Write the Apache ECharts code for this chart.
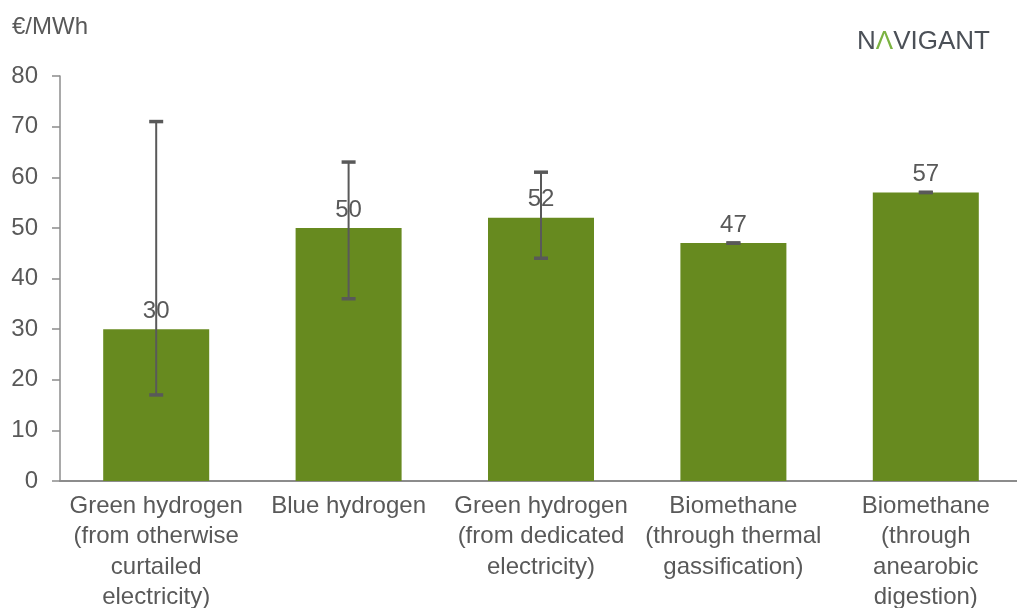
<!DOCTYPE html>
<html>
<head>
<meta charset="utf-8">
<script src="https://cdn.jsdelivr.net/npm/echarts@6/dist/echarts.min.js"></script>
<style>
  html, body { margin: 0; padding: 0; background: #fff; }
  #chart { width: 1017px; height: 608px; }
</style>
</head>
<body>
<div id="chart"></div>
<script>
// chart data
const categories = [
  'Green hydrogen\n(from otherwise\ncurtailed\nelectricity)',
  'Blue hydrogen',
  'Green hydrogen\n(from dedicated\nelectricity)',
  'Biomethane\n(through thermal\ngassification)',
  'Biomethane\n(through\nanearobic\ndigestion)'
];
const costs = [30, 50, 52, 47, 57];
const rangeLow = [17, 36, 44, 47, 57];
const rangeHigh = [71, 63, 61, 47, 57];
const yTicks = { min: 0, max: 80, interval: 10 };

const textColor = '#595959';
const barColor = '#678a1f';
const font = 'Liberation Sans, Arial, sans-serif';

const chart = echarts.init(document.getElementById('chart'));

const errorData = categories.map((c, i) => [i, rangeLow[i], rangeHigh[i]]);

chart.setOption({
  animation: false,
  textStyle: { fontFamily: font },
  grid: {
    left: 60, top: 76, width: 962, bottom: 127,
    containLabel: false, outerBoundsMode: 'none'
  },
  graphic: [
    {
      type: 'text', left: 12, top: 15,
      style: { text: '€/MWh', font: '24px ' + font, fill: textColor }
    },
    {
      type: 'text', left: 857, top: 29,
      style: {
        text: '{g|N}{a|Λ}{g|VIGANT}',
        rich: {
          g: { font: '26px ' + font, fill: '#4b5057' },
          a: { font: '26px ' + font, fill: '#7cb342' }
        }
      }
    }
  ],
  xAxis: {
    type: 'category',
    data: categories,
    axisLine: { lineStyle: { color: '#8c8c8c', width: 2 } },
    axisTick: { show: false },
    axisLabel: {
      color: textColor, fontSize: 24, lineHeight: 30.5, margin: 10,
      interval: 0, align: 'center', fontFamily: font
    }
  },
  yAxis: {
    type: 'value',
    min: yTicks.min, max: yTicks.max, interval: yTicks.interval,
    splitLine: { show: false },
    axisLine: { show: true, lineStyle: { color: '#8c8c8c', width: 1.5 } },
    axisTick: { show: true, length: 8, lineStyle: { color: '#8c8c8c', width: 1.5 } },
    axisLabel: { color: textColor, fontSize: 24, margin: 22, fontFamily: font }
  },
  series: [
    {
      type: 'bar',
      data: costs,
      barWidth: 106,
      itemStyle: { color: barColor },
      label: {
        show: true, position: 'top', distance: 6,
        color: textColor, fontSize: 24, fontFamily: font
      },
      z: 2
    },
    {
      type: 'custom',
      data: errorData,
      z: 3,
      renderItem: function (params, api) {
        const x = api.value(0);
        const lo = api.coord([x, api.value(1)]);
        const hi = api.coord([x, api.value(2)]);
        const cap = 7;
        const style = { stroke: '#595959', lineWidth: 2 };
        const capStyle = { stroke: '#595959', lineWidth: 3.5 };
        return {
          type: 'group',
          children: [
            { type: 'line', shape: { x1: lo[0], y1: lo[1], x2: hi[0], y2: hi[1] }, style: style },
            { type: 'line', shape: { x1: hi[0] - cap, y1: hi[1], x2: hi[0] + cap, y2: hi[1] }, style: capStyle },
            { type: 'line', shape: { x1: lo[0] - cap, y1: lo[1], x2: lo[0] + cap, y2: lo[1] }, style: capStyle }
          ]
        };
      }
    }
  ]
});
</script>
</body>
</html>
